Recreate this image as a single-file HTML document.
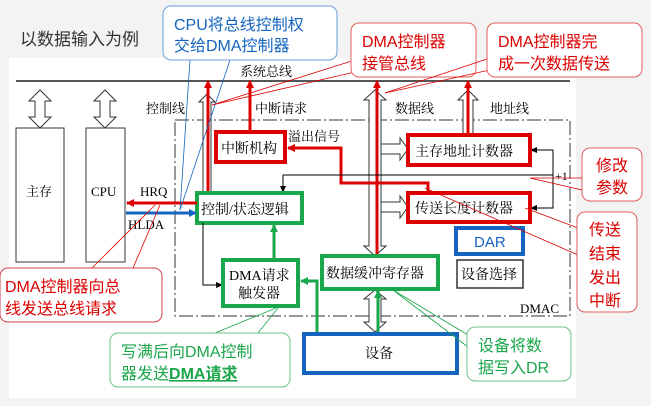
<!DOCTYPE html>
<html><head><meta charset="utf-8"><style>
body{margin:0;background:#f3f3f3;}
svg{display:block;font-family:"Liberation Serif","Noto Serif CJK SC",serif;}
.s{font-family:"Liberation Sans","Noto Sans CJK SC",sans-serif;}
</style></head><body>
<svg width="651" height="406" viewBox="0 0 651 406" xmlns="http://www.w3.org/2000/svg">
<defs>
<marker id="ar" markerWidth="8" markerHeight="8" refX="7" refY="4" orient="auto" markerUnits="userSpaceOnUse"><path d="M0,0 L8,4 L0,8z" fill="#d00"/></marker>
<marker id="ab" markerWidth="8" markerHeight="8" refX="7" refY="4" orient="auto" markerUnits="userSpaceOnUse"><path d="M0,0 L8,4 L0,8z" fill="#1565c0"/></marker>
<marker id="ag" markerWidth="8" markerHeight="8" refX="7" refY="4" orient="auto" markerUnits="userSpaceOnUse"><path d="M0,0 L8,4 L0,8z" fill="#1aa64a"/></marker>
<marker id="ak" markerWidth="7" markerHeight="6" refX="6" refY="3" orient="auto" markerUnits="userSpaceOnUse"><path d="M0,0 L7,3 L0,6z" fill="#000"/></marker>
</defs>
<rect x="9" y="58" width="567" height="340" fill="#fff"/>
<text x="20" y="45" font-size="17" fill="#333" class="s">以数据输入为例</text>
<text x="240" y="76" font-size="13">系统总线</text>
<line x1="16" y1="81" x2="570" y2="81" stroke="#555" stroke-width="2"/>
<path d="M40,90 l-11,11 h6 v16 h-6 l11,11 l11,-11 h-6 v-16 h6z" fill="#fff" stroke="#333"/>
<path d="M105,90 l-11,11 h6 v16 h-6 l11,11 l11,-11 h-6 v-16 h6z" fill="#fff" stroke="#333"/>
<rect x="16" y="128" width="48" height="134" fill="#fff" stroke="#333"/>
<rect x="86" y="128" width="39" height="134" fill="#fff" stroke="#333"/>
<text x="26" y="196" font-size="13">主存</text>
<text x="91" y="196" font-size="13">CPU</text>
<text x="146" y="113" font-size="13">控制线</text>
<text x="255" y="113" font-size="13">中断请求</text>
<text x="395" y="113" font-size="13">数据线</text>
<text x="490" y="113" font-size="13">地址线</text>
<rect x="175" y="120" width="395" height="196" fill="none" stroke="#333" stroke-dasharray="14,3,2,3"/>
<text x="520" y="313" font-size="13">DMAC</text>
<path d="M207,94 l-8,8 h4 v91 h8 v-91 h4z" fill="#fff" stroke="#333"/>
<path d="M375,90 l-11,10 h5 v146 h-5 l11,10 l11,-10 h-5 v-146 h5z" fill="#fff" stroke="#333"/>
<path d="M375,290 l-11,9 h5 v23 h-5 l11,10 l11,-10 h-5 v-23 h5z" fill="#fff" stroke="#333"/>
<path d="M468,90 l-10,10 h5 v35 h10 v-35 h5z" fill="#fff" stroke="#333"/>
<path d="M381,144 h19 v-6 l8,11 l-8,11 v-6 h-19z" fill="#fff" stroke="#333"/>
<path d="M381,202 h19 v-6 l8,11 l-8,11 v-6 h-19z" fill="#fff" stroke="#333"/>
<line x1="208" y1="193" x2="208" y2="81" stroke="#d00" stroke-width="3" marker-end="url(#ar)"/>
<line x1="250" y1="132" x2="250" y2="81" stroke="#d00" stroke-width="3" marker-end="url(#ar)"/>
<line x1="377" y1="256" x2="377" y2="81" stroke="#d00" stroke-width="3" marker-end="url(#ar)"/>
<line x1="468" y1="135" x2="468" y2="81" stroke="#d00" stroke-width="3" marker-end="url(#ar)"/>
<polyline points="428,193 428,183 341,183 341,148 288,148" fill="none" stroke="#d00" stroke-width="3" marker-end="url(#ar)"/>
<text x="288" y="141" font-size="13">溢出信号</text>
<polyline points="283,192 283,175 553,175" fill="none" stroke="#000" stroke-width="1"/>
<line x1="283" y1="176" x2="283" y2="192" stroke="#000" marker-end="url(#ak)"/>
<polyline points="530,150 553,150 553,208 531,208" fill="none" stroke="#000"/>
<line x1="553" y1="150" x2="531" y2="150" stroke="#000" marker-end="url(#ak)"/>
<line x1="553" y1="208" x2="531" y2="208" stroke="#000" marker-end="url(#ak)"/>
<text x="555" y="180" font-size="12">+1</text>
<rect x="216" y="132" width="69" height="30" fill="#fff" stroke="#d00" stroke-width="4"/>
<text x="221" y="153" font-size="14">中断机构</text>
<rect x="408" y="135" width="122" height="30" fill="#fff" stroke="#d00" stroke-width="4"/>
<text x="415" y="156" font-size="14">主存地址计数器</text>
<rect x="408" y="193" width="122" height="29" fill="#fff" stroke="#d00" stroke-width="4"/>
<text x="415" y="213" font-size="14">传送长度计数器</text>
<rect x="197" y="193" width="105" height="30" fill="#fff" stroke="#1aa64a" stroke-width="4"/>
<text x="201" y="214" font-size="14">控制/状态逻辑</text>
<text x="140" y="196" font-size="13">HRQ</text>
<text x="128" y="229" font-size="13">HLDA</text>
<line x1="197" y1="203" x2="127" y2="203" stroke="#d00" stroke-width="3" marker-end="url(#ar)"/>
<line x1="126" y1="213" x2="196" y2="213" stroke="#1565c0" stroke-width="3" marker-end="url(#ab)"/>
<polyline points="203,223 203,285 222,285" fill="none" stroke="#000"/>
<line x1="210" y1="285" x2="222" y2="285" stroke="#000" marker-end="url(#ak)"/>
<rect x="223" y="260" width="75" height="46" fill="#fff" stroke="#1aa64a" stroke-width="4"/>
<text x="229" y="280" font-size="14">DMA请求</text>
<text x="238" y="298" font-size="14">触发器</text>
<line x1="274" y1="258" x2="274" y2="225" stroke="#1aa64a" stroke-width="3" marker-end="url(#ag)"/>
<rect x="322" y="256" width="116" height="33" fill="#fff" stroke="#1aa64a" stroke-width="4"/>
<text x="326" y="278" font-size="14">数据缓冲寄存器</text>
<polyline points="317,333 317,281 301,281" fill="none" stroke="#1aa64a" stroke-width="3" marker-end="url(#ag)"/>
<line x1="378" y1="333" x2="378" y2="291" stroke="#1aa64a" stroke-width="3" marker-end="url(#ag)"/>
<rect x="456" y="228" width="67" height="26" fill="#fff" stroke="#1565c0" stroke-width="4"/>
<text x="474" y="247" font-size="15" fill="#1565c0" class="s">DAR</text>
<rect x="457" y="260" width="66" height="28" fill="#fff" stroke="#333" stroke-width="1.5"/>
<text x="461" y="279" font-size="14">设备选择</text>
<rect x="304" y="334" width="153" height="39" fill="#fff" stroke="#1565c0" stroke-width="4"/>
<text x="365" y="358" font-size="14">设备</text>
<g class="s" font-size="16">
<line x1="190" y1="60" x2="180" y2="210" stroke="#1565c0" stroke-width="0.8"/>
<line x1="230" y1="60" x2="180" y2="210" stroke="#1565c0" stroke-width="0.8"/>
<rect x="163" y="6" width="174" height="54" rx="8" fill="#fff" fill-opacity="0.95" stroke="#6a9fd8"/>
<text x="174" y="30" fill="#1565c0">CPU将总线控制权</text>
<text x="174" y="51" fill="#1565c0">交给DMA控制器</text>
<line x1="355" y1="60" x2="212" y2="105" stroke="#d00" stroke-width="0.8"/>
<line x1="355" y1="72" x2="212" y2="105" stroke="#d00" stroke-width="0.8"/>
<rect x="351" y="23" width="125" height="54" rx="8" fill="#fff" stroke="#e06060"/>
<text x="362" y="47" fill="#d00">DMA控制器</text>
<text x="362" y="69" fill="#d00">接管总线</text>
<line x1="490" y1="58" x2="385" y2="93" stroke="#d00" stroke-width="0.8"/>
<line x1="490" y1="70" x2="385" y2="93" stroke="#d00" stroke-width="0.8"/>
<rect x="487" y="23" width="155" height="54" rx="8" fill="#fff" stroke="#e06060"/>
<text x="498" y="47" fill="#d00">DMA控制器完</text>
<text x="498" y="69" fill="#d00">成一次数据传送</text>
<line x1="582" y1="178" x2="530" y2="178" stroke="#d00" stroke-width="0.8"/>
<line x1="582" y1="190" x2="530" y2="178" stroke="#d00" stroke-width="0.8"/>
<rect x="582" y="148" width="60" height="53" rx="8" fill="#fff" stroke="#e06060"/>
<text x="596" y="171" fill="#d00">修改</text>
<text x="596" y="193" fill="#d00">参数</text>
<line x1="578" y1="228" x2="525" y2="208" stroke="#d00" stroke-width="0.8"/>
<line x1="578" y1="255" x2="425" y2="188" stroke="#d00" stroke-width="0.8"/>
<rect x="577" y="212" width="60" height="100" rx="8" fill="#fff" stroke="#e06060"/>
<text x="589" y="235" fill="#d00">传送</text>
<text x="589" y="259" fill="#d00">结束</text>
<text x="589" y="283" fill="#d00">发出</text>
<text x="589" y="306" fill="#d00">中断</text>
<line x1="92" y1="268" x2="155" y2="205" stroke="#d00" stroke-width="0.8"/>
<line x1="133" y1="268" x2="160" y2="205" stroke="#d00" stroke-width="0.8"/>
<rect x="0" y="268" width="162" height="54" rx="8" fill="#fff" stroke="#d04050"/>
<text x="5" y="292" fill="#d00">DMA控制器向总</text>
<text x="5" y="314" fill="#d00">线发送总线请求</text>
<line x1="215" y1="333" x2="276" y2="308" stroke="#1aa64a" stroke-width="0.8"/>
<line x1="258" y1="333" x2="278" y2="308" stroke="#1aa64a" stroke-width="0.8"/>
<rect x="110" y="333" width="180" height="54" rx="8" fill="#fff" stroke="#6cc08a"/>
<text x="121" y="357" fill="#1aa64a">写满后向DMA控制</text>
<text x="121" y="379" fill="#1aa64a">器发送<tspan font-weight="bold" text-decoration="underline">DMA请求</tspan></text>
<line x1="468" y1="335" x2="393" y2="290" stroke="#1aa64a" stroke-width="0.8"/>
<line x1="468" y1="347" x2="393" y2="290" stroke="#1aa64a" stroke-width="0.8"/>
<rect x="467" y="327" width="104" height="54" rx="8" fill="#fff" stroke="#6cc08a"/>
<text x="478" y="351" fill="#1aa64a">设备将数</text>
<text x="478" y="373" fill="#1aa64a">据写入DR</text>
</g>
</svg>
</body></html>
